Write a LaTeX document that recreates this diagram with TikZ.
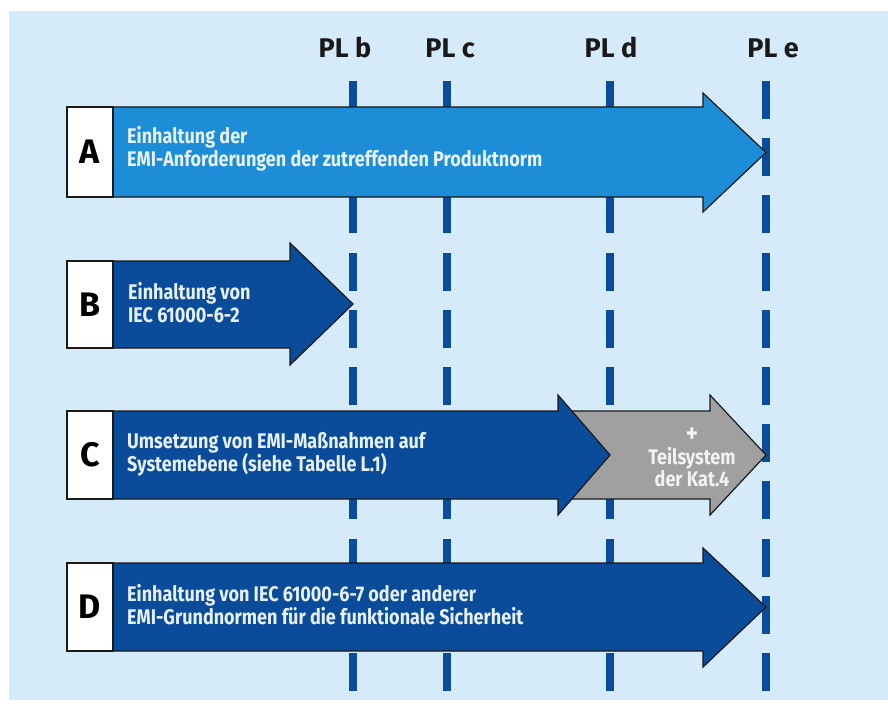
\documentclass[tikz,border=0pt]{standalone}
\usepackage{fontspec}
\setmainfont{Fira Sans}
\newfontfamily\condfont{Fira Sans}[FakeStretch=0.85]
\definecolor{bgblue}{HTML}{D5EBF9}
\definecolor{brightblue}{HTML}{1C8DD6}
\definecolor{darkblue}{HTML}{0A4C9A}
\definecolor{arrowgrey}{HTML}{A0A0A0}
\definecolor{bandtextcol}{HTML}{E6F1FB}
\definecolor{outlinecol}{HTML}{1A1A1A}
\begin{document}
\begin{tikzpicture}[x=1pt,y=-1pt,
  plline/.style={darkblue,line width=8.5pt,dash pattern=on 38pt off 19.2pt},
  pllabel/.style={font=\bfseries\fontsize{27}{30}\selectfont,text=black!90,anchor=base,inner sep=0pt},
  band/.style={draw=outlinecol,line width=1.2pt,line join=miter},
  letterbox/.style={draw=outlinecol,line width=1.2pt,fill=white,minimum width=46pt,inner sep=0pt,
    font=\bfseries\fontsize{34}{36}\selectfont,text=black},
  bandtext/.style={anchor=west,align=left,inner sep=0pt,text=bandtextcol,
    font=\condfont\bfseries\fontsize{21.2}{23}\selectfont},
  greytext/.style={align=center,inner sep=0pt,text=white!95!black,
    font=\condfont\bfseries\fontsize{21.2}{22}\selectfont}]
\useasboundingbox (0,0) rectangle (888,706);
\fill[bgblue] (9,11) rectangle (888,700);

% performance level columns
\coordinate (bTop) at (353,81);  \coordinate (bBot) at (353,692);
\coordinate (cTop) at (447,81);  \coordinate (cBot) at (447,692);
\coordinate (dTop) at (610,81);  \coordinate (dBot) at (610,692);
\coordinate (eTop) at (766,81);  \coordinate (eBot) at (766,692);
\draw[plline] (bTop) -- (bBot);
\draw[plline] (cTop) -- (cBot);
\draw[plline] (dTop) -- (dBot);
\draw[plline] (eTop) -- (eBot);
\node[pllabel] (plb) at (345,58) {PL b};
\node[pllabel] (plc) at (450,58) {PL c};
\node[pllabel] (pld) at (611,58) {PL d};
\node[pllabel] (ple) at (773,58) {PL e};

% band A
\draw[band,fill=brightblue] (67,107) -- (703,107) -- (703,93) -- (766,152.5)
  -- (703,212) -- (703,197) -- (67,197) -- cycle;
\node[letterbox,minimum height=90pt] (boxA) at (90,152) {A};
\node[bandtext] (txtA) at (127,149) {Einhaltung der\\EMI-Anforderungen der zutreffenden Produktnorm};

% band B
\draw[band,fill=darkblue] (67,261) -- (290,261) -- (290,243) -- (353,304)
  -- (290,365) -- (290,348) -- (67,348) -- cycle;
\node[letterbox,minimum height=87pt] (boxB) at (90,304.5) {B};
\node[bandtext] (txtB) at (128,303) {Einhaltung von\\IEC 61000-6-2};

% band C with the category 4 extension behind it
\draw[band,fill=arrowgrey] (560,411) -- (710,411) -- (710,395) -- (766,455)
  -- (710,515) -- (710,499) -- (560,499) -- cycle;
\draw[band,fill=darkblue] (67,411) -- (558,411) -- (558,395) -- (610,455)
  -- (558,515) -- (558,499) -- (67,499) -- cycle;
\node[letterbox,minimum height=88pt] (boxC) at (90,455) {C};
\node[bandtext] (txtC) at (127,454) {Umsetzung von EMI-Maßnahmen auf\\Systemebene (siehe Tabelle L.1)};
\node[greytext] (txtKat) at (692,457) {{\fontsize{27}{22}\selectfont +}\\Teilsystem\\der Kat.4};

% band D
\draw[band,fill=darkblue] (67,563) -- (703,563) -- (703,548) -- (766,607)
  -- (703,667) -- (703,651) -- (67,651) -- cycle;
\node[letterbox,minimum height=88pt] (boxD) at (90,607) {D};
\node[bandtext] (txtD) at (127,605) {Einhaltung von IEC 61000-6-7 oder anderer\\EMI-Grundnormen für die funktionale Sicherheit};
\end{tikzpicture}
\end{document}
